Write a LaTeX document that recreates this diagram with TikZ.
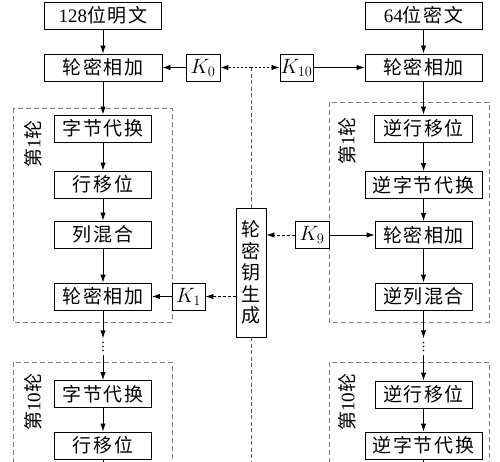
\documentclass[tikz,border=0pt]{standalone}
\usepackage{fontspec}
\setmainfont{Liberation Serif}
\newfontfamily\cjk{Noto Sans CJK SC}[LetterSpace=8]
\usetikzlibrary{arrows.meta}
\newcommand\cn[1]{{\cjk #1}}
\begin{document}
\begin{tikzpicture}[x=1pt,y=-1pt,
  bx/.style={draw, line width=0.9pt, inner sep=0pt, minimum height=27pt, font=\fontsize{19}{21}\selectfont},
  kbx/.style={bx, minimum width=34pt, font=\fontsize{22}{24}\selectfont},
  ar/.style={-{Latex[length=8pt,width=5.5pt]}, line width=0.9pt},
  dar/.style={ar, dash pattern=on 3pt off 2pt},
  dotar/.style={ar, dash pattern=on 2pt off 2pt},
  plain/.style={line width=0.9pt},
  rnd/.style={draw=gray, line width=0.8pt, dash pattern=on 5pt off 3pt},
  mid/.style={draw=gray!70!black, line width=1pt, dash pattern=on 4pt off 2.5pt},
  lbl/.style={rotate=90, inner sep=0pt, font=\fontsize{19}{21}\selectfont},
  dotsn/.style={inner sep=0pt, minimum width=2pt, minimum height=16pt}]
\useasboundingbox (0,0) rectangle (500,462);

% round frames
\draw[rnd] (13,108) rectangle (172,322);
\draw[rnd] (329,102) rectangle (489,322);
\draw[rnd] (13,463) |- (172,362) -- (172,463);
\draw[rnd] (329,463) |- (489,362) -- (489,463);

% top row
\node[bx, minimum width=117pt] (pt) at (103,15.5) {128\cn{位明文}};
\node[bx, minimum width=118pt] (ark0) at (103,67.5) {\cn{轮密相加}};
\node[kbx] (k0) at (203,67.5) {$K_0$};
\node[kbx, minimum width=33pt] (k10) at (296.5,67.5) {$K_{10}$};
\node[bx, minimum width=117pt] (ct) at (423.5,15.5) {64\cn{位密文}};
\node[bx, minimum width=117pt] (rark0) at (423.5,67.5) {\cn{轮密相加}};

% left round 1
\node[bx, minimum width=97pt] (sb1) at (103,128.5) {\cn{字节代换}};
\node[bx, minimum width=97pt] (sr1) at (103,184.5) {\cn{行移位}};
\node[bx, minimum width=97pt] (mc1) at (103,234.5) {\cn{列混合}};
\node[bx, minimum width=97pt] (ark1) at (103,296.5) {\cn{轮密相加}};
\node[kbx, minimum width=33pt] (k1) at (188.5,296.5) {$K_1$};

% right round 1
\node[bx, minimum width=98pt] (isr1) at (423.5,128.5) {\cn{逆行移位}};
\node[bx, minimum width=117pt] (isb1) at (423.5,185) {\cn{逆字节代换}};
\node[bx, minimum width=97pt] (rark1) at (423.5,235) {\cn{轮密相加}};
\node[kbx] (k9) at (312,235) {$K_9$};
\node[bx, minimum width=97pt] (imc1) at (423.5,296.5) {\cn{逆列混合}};

% round 10
\node[bx, minimum width=97pt] (sb10) at (103,394) {\cn{字节代换}};
\node[bx, minimum width=97pt] (sr10) at (103,445.5) {\cn{行移位}};
\node[bx, minimum width=97pt] (isr10) at (423.5,394.5) {\cn{逆行移位}};
\node[bx, minimum width=117pt] (isb10) at (423.5,445.5) {\cn{逆字节代换}};

% key generation
\node[draw, line width=0.9pt, minimum width=30pt, minimum height=129pt, inner sep=0pt,
      align=center, font=\cjk\fontsize{19}{21.5}\selectfont] (kg) at (251,272.5)
      {轮\\密\\钥\\生\\成};

% labels
\node[lbl] (l1) at (33,144) {\cn{第}1\cn{轮}};
\node[lbl] (r1) at (347,141) {\cn{第}1\cn{轮}};
\node[lbl] (l10) at (33,402) {\cn{第}10\cn{轮}};
\node[lbl] (r10) at (347,402) {\cn{第}10\cn{轮}};

% dots
\node[dotsn] (dl) at (103,346.5) {};
\node[dotsn] (dr) at (423.5,346.5) {};
\fill (103,342.5) circle (0.8pt) (103,346.5) circle (0.8pt) (103,350.5) circle (0.8pt);
\fill (423.5,342.5) circle (0.8pt) (423.5,346.5) circle (0.8pt) (423.5,350.5) circle (0.8pt);

% coordinates
\coordinate (top) at (251,67.5);
\coordinate (mbot) at (251,463);
\coordinate (lbot) at (103,463);
\coordinate (rbot) at (423.5,463);

% middle
\draw[mid] (top) -- (kg);
\draw[mid] (kg) -- (mbot);
\draw[dotar] (top) -- (k0);
\draw[dotar] (top) -- (k10);

% left chain
\draw[ar] (pt) -- (ark0);
\draw[ar] (k0) -- (ark0);
\draw[ar] (ark0) -- (sb1);
\draw[ar] (sb1) -- (sr1);
\draw[ar] (sr1) -- (mc1);
\draw[ar] (mc1) -- (ark1);
\draw[ar] (k1) -- (ark1);
\draw[dar] (k1.east -| kg.west) -- (k1.east);
\draw[ar] (ark1) -- (dl);
\draw[ar] (dl) -- (sb10);
\draw[ar] (sb10) -- (sr10);
\draw[plain] (sr10) -- (lbot);

% right chain
\draw[ar] (ct) -- (rark0);
\draw[ar] (k10) -- (rark0);
\draw[ar] (rark0) -- (isr1);
\draw[ar] (isr1) -- (isb1);
\draw[ar] (isb1) -- (rark1);
\draw[ar] (k9) -- (rark1);
\draw[dar] (k9.west) -- (k9.west -| kg.east);
\draw[ar] (rark1) -- (imc1);
\draw[ar] (imc1) -- (dr);
\draw[ar] (dr) -- (isr10);
\draw[ar] (isr10) -- (isb10);
\draw[plain] (isb10) -- (rbot);
\end{tikzpicture}
\end{document}
